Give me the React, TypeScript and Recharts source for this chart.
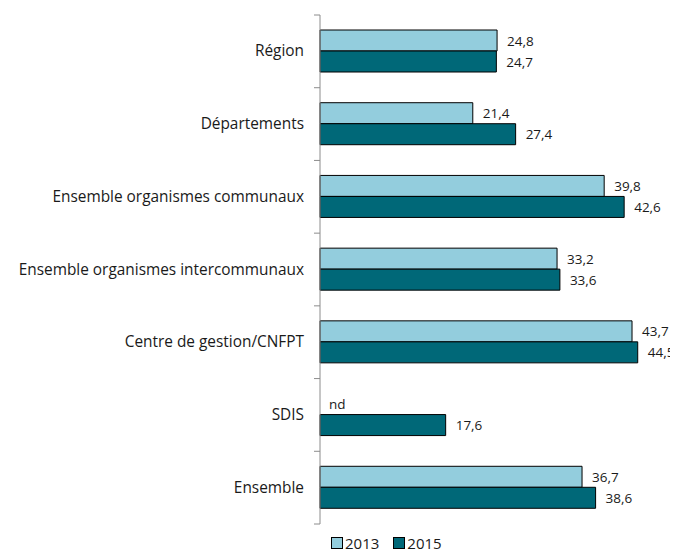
import { Bar, BarChart, LabelList, Legend, Rectangle, XAxis, YAxis } from "recharts"

const categories = [
  "Région",
  "Départements",
  "Ensemble organismes communaux",
  "Ensemble organismes intercommunaux",
  "Centre de gestion/CNFPT",
  "SDIS",
  "Ensemble",
]

// null = "nd" (non disponible)
const values2013 = [24.8, 21.4, 39.8, 33.2, 43.7, null, 36.7]
const values2015 = [24.7, 27.4, 42.6, 33.6, 44.5, 17.6, 38.6]

const seriesNames = ["2013", "2015"]
const colors = ["#93CDDD", "#006878"]

const fmt = (v: number | null) => (v == null ? "nd" : String(v).replace(".", ","))

const data = categories.map((name, i) => ({
  name,
  y2013: values2013[i] ?? 0,
  y2015: values2015[i] ?? 0,
  l2013: fmt(values2013[i]),
  l2015: fmt(values2015[i]),
}))

const FONT = "'Open Sans', sans-serif"
const AXIS_GRAY = "#8c8c8c"

function CategoryTick(props: any) {
  const { x, y, payload, index, visibleTicksCount } = props
  const half = payload.offset ?? 36.4
  const last = index === (visibleTicksCount ?? categories.length) - 1
  return (
    <g>
      <line x1={x - 6} x2={x} y1={y - half} y2={y - half} stroke={AXIS_GRAY} />
      {last && <line x1={x - 6} x2={x} y1={y + half} y2={y + half} stroke={AXIS_GRAY} />}
      <text x={x - 16} y={y} dy={5} textAnchor="end" fontSize={15.4} fontFamily={FONT} fill="#1a1a1a">
        {payload.value}
      </text>
    </g>
  )
}

function ValueLabel(props: any) {
  const { x, y, width, height, value } = props
  if (value === "nd") return null
  return (
    <text x={x + width + 10} y={y + height / 2} dy={5} fontSize={13.5} fontFamily={FONT} fill="#1a1a1a">
      {value}
    </text>
  )
}

// draws the bar, or "nd" where the value is missing
function makeShape(labelKey: string) {
  return (props: any) => {
    const { x, y, height, payload } = props
    if (payload && payload[labelKey] === "nd") {
      return (
        <text x={x + 9} y={y + height / 2} dy={5} fontSize={13.5} fontFamily={FONT} fill="#1a1a1a">
          nd
        </text>
      )
    }
    return <Rectangle {...props} />
  }
}

function LegendContent() {
  return (
    <div style={{ display: "flex", gap: 14, fontFamily: FONT, fontSize: 15, lineHeight: "18px", color: "#1a1a1a" }}>
      {seriesNames.map((s, i) => (
        <span key={s} style={{ display: "flex", alignItems: "center" }}>
          <span
            style={{
              display: "inline-block",
              width: 10,
              height: 10,
              background: colors[i],
              border: "1px solid #000",
              marginRight: 2,
            }}
          />
          {s}
        </span>
      ))}
    </div>
  )
}

export default function App() {
  return (
    <>
      <style>{"body{overflow:hidden} .recharts-surface{overflow:visible}"}</style>
      <BarChart
        width={678}
        height={544}
        data={data}
        layout="vertical"
        margin={{ top: 7, right: 9, bottom: 8, left: 0 }}
        barGap={0}
        barSize={21}
      >
        <XAxis type="number" domain={[0, 50]} hide />
        <YAxis
          type="category"
          dataKey="name"
          width={312}
          tickSize={0}
          tickMargin={0}
          axisLine={{ stroke: AXIS_GRAY }}
          tick={<CategoryTick />}
          interval={0}
        />
        <Legend
          verticalAlign="bottom"
          height={20}
          content={<LegendContent />}
          wrapperStyle={{ left: 323, top: 526, width: "auto" }}
        />
        <Bar
          dataKey="y2013"
          name="2013"
          fill={colors[0]}
          stroke="#000"
          strokeWidth={1}
          shape={makeShape("l2013")}
          isAnimationActive={false}
        >
          <LabelList dataKey="l2013" content={<ValueLabel />} />
        </Bar>
        <Bar dataKey="y2015" name="2015" fill={colors[1]} stroke="#000" strokeWidth={1} isAnimationActive={false}>
          <LabelList dataKey="l2015" content={<ValueLabel />} />
        </Bar>
      </BarChart>
    </>
  )
}
